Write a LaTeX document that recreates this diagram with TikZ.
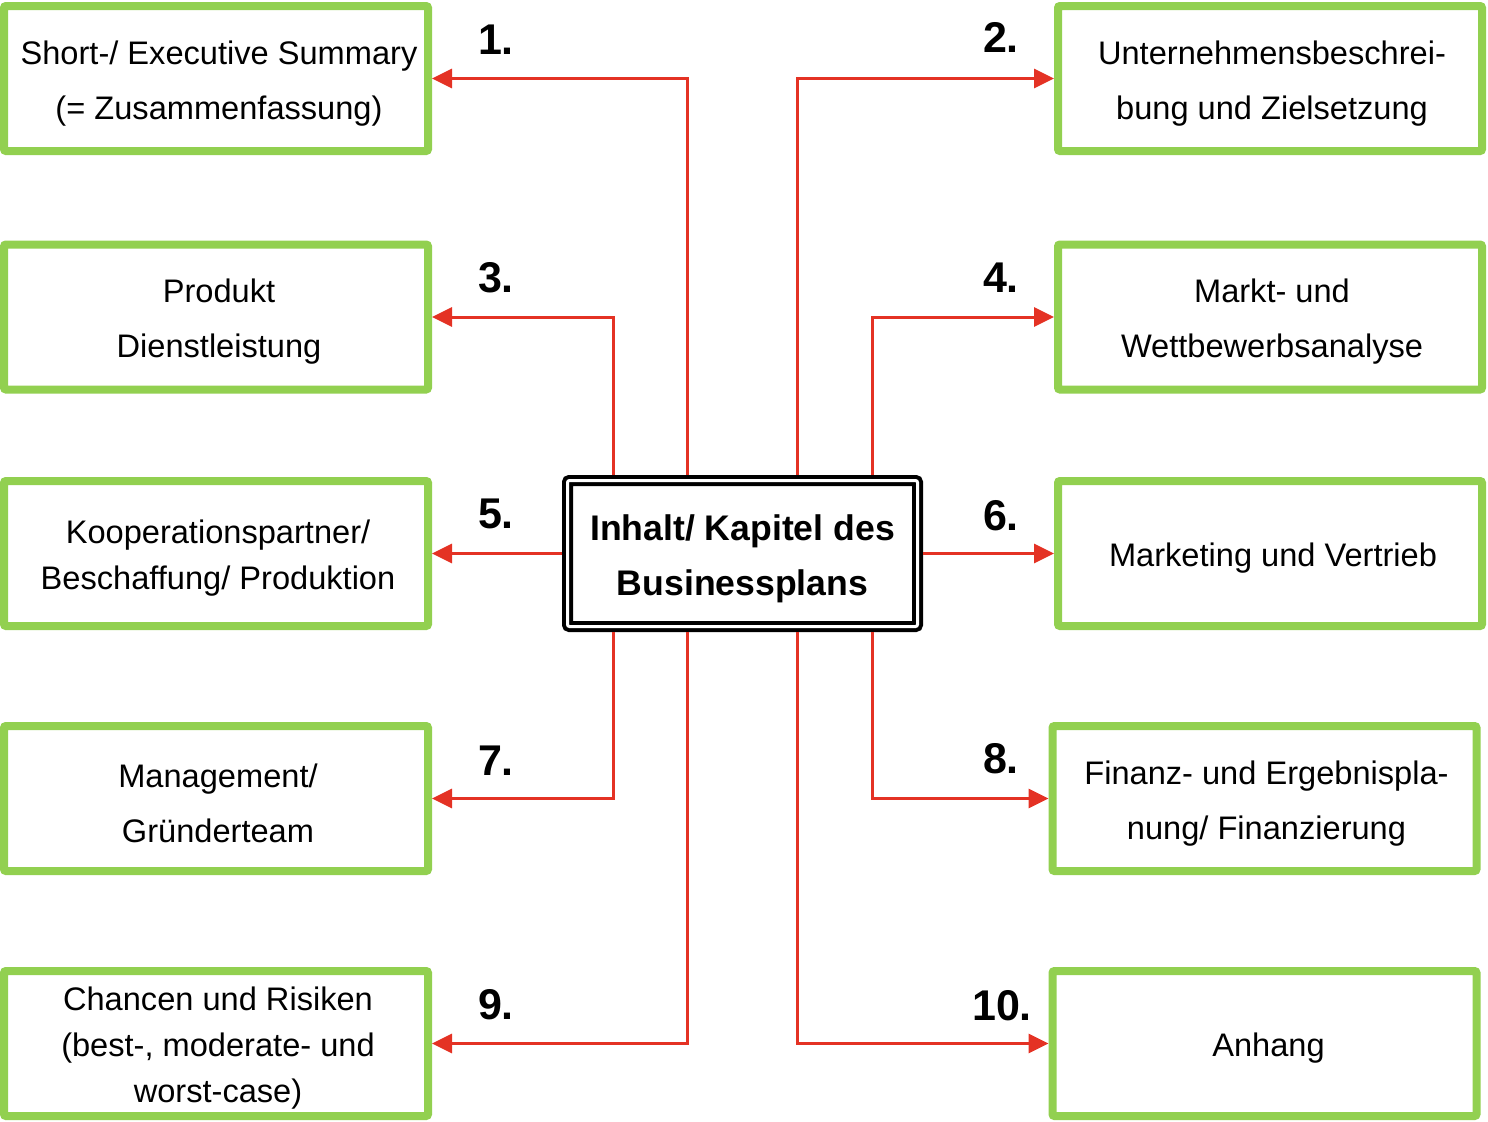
\documentclass[tikz,border=0pt]{standalone}
\usepackage{fontspec}
\setmainfont{Liberation Sans}
\usetikzlibrary{arrows.meta}
\definecolor{boxgreen}{RGB}{146,208,80}
\definecolor{arrred}{RGB}{228,50,36}
\begin{document}
\begin{tikzpicture}[x=0.5pt,y=-0.5pt,
  gbox/.style={draw=boxgreen, line width=4pt, minimum width=212pt, minimum height=72.5pt,
    inner sep=0pt, rounded corners=1pt},
  btext/.style={align=center, inner sep=0pt, font=\fontsize{16.3}{27.5}\selectfont},
  tight/.style={font=\fontsize{16.3}{23}\selectfont},
  num/.style={font=\fontsize{21.5}{24}\bfseries\selectfont, inner sep=0pt},
  arr/.style={draw=arrred, line width=1.5pt, -{Triangle[length=10pt,width=9.5pt]}},
  centerbox/.style={draw, line width=2pt, double, double distance=1.5pt, minimum width=175pt,
    minimum height=73pt, inner sep=0pt, outer sep=2.75pt, rounded corners=1pt},
  ctext/.style={align=center, inner sep=0pt, font=\fontsize{17.8}{27.5}\bfseries\selectfont},
]
\useasboundingbox (0,0) rectangle (1488,1121);

\node[gbox] (b1) at (216,78.5) {};
\node[gbox] (b2) at (1270,78.5) {};
\node[gbox] (b3) at (216,317) {};
\node[gbox] (b4) at (1270,317) {};
\node[gbox] (b5) at (216,553.5) {};
\node[gbox] (b6) at (1270,553.5) {};
\node[gbox] (b7) at (216,798.5) {};
\node[gbox] (b8) at (1264.5,798.5) {};
\node[gbox] (b9) at (216,1043.5) {};
\node[gbox] (b10) at (1264.5,1043.5) {};

\node[btext] (t1) at ([shift={(3,5)}]b1.center) {Short-/ Executive Summary\\(= Zusammenfassung)};
\node[btext] (t2) at ([shift={(2,5)}]b2.center) {Unternehmensbeschrei-\\bung und Zielsetzung};
\node[btext] (t3) at ([shift={(3,5)}]b3.center) {Produkt\\Dienstleistung};
\node[btext] (t4) at ([shift={(2,5)}]b4.center) {Markt- und\\Wettbewerbsanalyse};
\node[btext,tight] (t5) at ([shift={(2,5)}]b5.center) {Kooperationspartner/\\Beschaffung/ Produktion};
\node[btext] (t6) at ([shift={(3,5)}]b6.center) {Marketing und Vertrieb};
\node[btext] (t7) at ([shift={(2,5)}]b7.center) {Management/\\Gründerteam};
\node[btext] (t8) at ([shift={(2,5)}]b8.center) {Finanz- und Ergebnispla-\\nung/ Finanzierung};
\node[btext,tight] (t9) at ([shift={(2,5)}]b9.center) {Chancen und Risiken\\(best-, moderate- und\\worst-case)};
\node[btext] (t10) at ([shift={(4,5)}]b10.center) {Anhang};

\node[centerbox] (c) at (742.5,553.5) {};
\node[ctext] (ct) at ([shift={(0,5)}]c.center) {Inhalt/ Kapitel des\\Businessplans};

\coordinate (xa) at (613,0);
\coordinate (xb) at (687,0);
\coordinate (xc) at (797,0);
\coordinate (xd) at (872,0);

\draw[arr] (c.north -| xb) |- (b1.east);
\draw[arr] (c.north -| xc) |- (b2.west);
\draw[arr] (c.north -| xa) |- (b3.east);
\draw[arr] (c.north -| xd) |- (b4.west);
\draw[arr] (c.west) -- (b5.east);
\draw[arr] (c.east) -- (b6.west);
\draw[arr] (c.south -| xa) |- (b7.east);
\draw[arr] (c.south -| xd) |- (b8.west);
\draw[arr] (c.south -| xb) |- (b9.east);
\draw[arr] (c.south -| xc) |- (b10.west);

\node[num] (n1) at (496,40) {1.};
\node[num] (n2) at (1001,37) {2.};
\node[num] (n3) at (496,278) {3.};
\node[num] (n4) at (1001,278) {4.};
\node[num] (n5) at (496,514) {5.};
\node[num] (n6) at (1001,516) {6.};
\node[num] (n7) at (496,761) {7.};
\node[num] (n8) at (1001,759) {8.};
\node[num] (n9) at (496,1005) {9.};
\node[num] (n10) at (1002,1006) {10.};
\end{tikzpicture}
\end{document}
